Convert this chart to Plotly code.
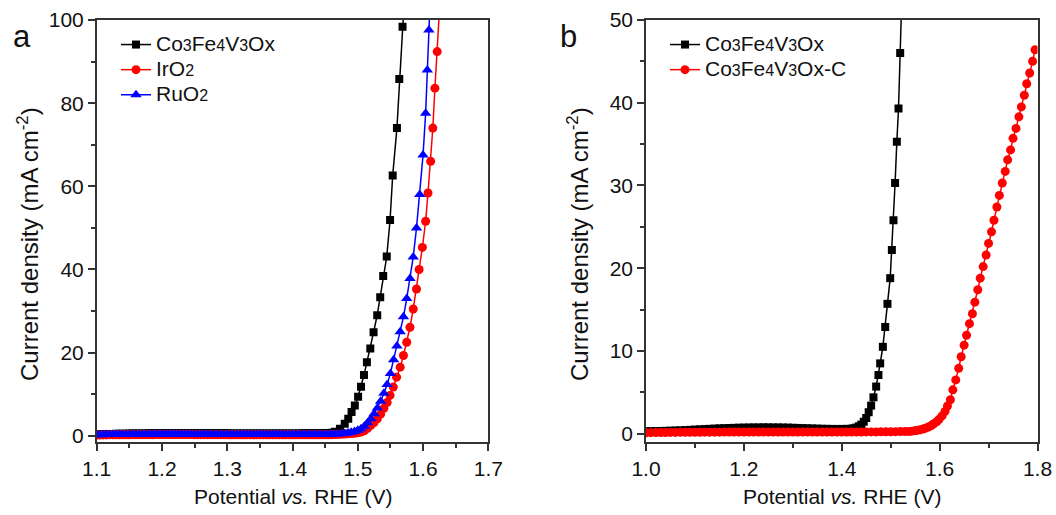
import plotly.graph_objects as go

# ---------------- Panel a data ----------------
POT_A_BASE = [1.100, 1.105, 1.110, 1.115, 1.120, 1.125, 1.130, 1.135, 1.140, 1.145,
              1.150, 1.155, 1.160, 1.165, 1.170, 1.175, 1.180, 1.185, 1.190, 1.195,
              1.200, 1.205, 1.210, 1.215, 1.220, 1.225, 1.230, 1.235, 1.240, 1.245,
              1.250, 1.255, 1.260, 1.265, 1.270, 1.275, 1.280, 1.285, 1.290, 1.295,
              1.300, 1.305, 1.310, 1.315, 1.320, 1.325, 1.330, 1.335, 1.340, 1.345,
              1.350, 1.355, 1.360, 1.365, 1.370, 1.375, 1.380, 1.385, 1.390, 1.395,
              1.400, 1.405, 1.410, 1.415, 1.420, 1.425, 1.430, 1.435, 1.440, 1.445,
              1.450]

A_CFVO_BASE = [0.35, 0.37, 0.39, 0.41, 0.43, 0.45, 0.47, 0.48, 0.50, 0.51,
               0.52, 0.53, 0.54, 0.55, 0.56, 0.57, 0.58, 0.58, 0.59, 0.59,
               0.60, 0.60, 0.61, 0.61, 0.61, 0.62, 0.62, 0.62, 0.62, 0.62,
               0.62, 0.62, 0.61, 0.61, 0.61, 0.60, 0.60, 0.59, 0.59, 0.58,
               0.58, 0.57, 0.57, 0.56, 0.56, 0.55, 0.55, 0.55, 0.54, 0.54,
               0.54, 0.54, 0.54, 0.54, 0.54, 0.54, 0.55, 0.55, 0.55, 0.56,
               0.56, 0.57, 0.57, 0.58, 0.58, 0.59, 0.60, 0.61, 0.62, 0.63,
               0.64]
A_IRO2_BASE = [0.18, 0.19, 0.20, 0.21, 0.22, 0.23, 0.23, 0.24, 0.24, 0.25,
               0.25, 0.26, 0.26, 0.26, 0.27, 0.27, 0.27, 0.27, 0.28, 0.28,
               0.28, 0.28, 0.28, 0.28, 0.28, 0.28, 0.28, 0.28, 0.28, 0.28,
               0.27, 0.27, 0.27, 0.27, 0.27, 0.26, 0.26, 0.26, 0.26, 0.26,
               0.25, 0.25, 0.25, 0.25, 0.25, 0.25, 0.25, 0.24, 0.24, 0.24,
               0.24, 0.24, 0.24, 0.24, 0.24, 0.24, 0.24, 0.24, 0.24, 0.24,
               0.24, 0.24, 0.24, 0.24, 0.24, 0.24, 0.24, 0.24, 0.24, 0.25,
               0.25]
A_RUO2_BASE = [0.25, 0.26, 0.27, 0.28, 0.29, 0.30, 0.30, 0.31, 0.31, 0.32,
               0.32, 0.32, 0.33, 0.33, 0.33, 0.33, 0.34, 0.34, 0.34, 0.34,
               0.34, 0.34, 0.34, 0.34, 0.34, 0.34, 0.34, 0.34, 0.33, 0.33,
               0.33, 0.33, 0.33, 0.32, 0.32, 0.32, 0.32, 0.32, 0.31, 0.31,
               0.31, 0.31, 0.31, 0.30, 0.30, 0.30, 0.30, 0.30, 0.30, 0.30,
               0.30, 0.30, 0.30, 0.30, 0.30, 0.30, 0.30, 0.30, 0.30, 0.30,
               0.30, 0.30, 0.30, 0.30, 0.30, 0.30, 0.30, 0.30, 0.30, 0.31,
               0.31]

A_CFVO_POT_RISE = [1.455, 1.460, 1.465, 1.4727, 1.480, 1.4854, 1.4905, 1.4955, 1.5005, 1.505,
                   1.5095, 1.514, 1.5192, 1.5242, 1.5298, 1.5344, 1.539, 1.5444, 1.5495, 1.5535,
                   1.560, 1.5636, 1.5686, 1.5736]
A_CFVO_J_RISE = [0.65, 0.75, 0.95, 1.7, 2.9, 4.1, 5.7, 7.3, 9.4, 11.8,
                 14.6, 17.7, 21.0, 24.9, 29.0, 33.3, 38.4, 43.1, 51.9, 62.6,
                 74.0, 85.8, 98.4, 111.0]

A_IRO2_POT_RISE = [1.455, 1.460, 1.465, 1.470, 1.475, 1.480, 1.485, 1.490, 1.495, 1.500,
                   1.505, 1.510, 1.515, 1.520, 1.525, 1.530, 1.535, 1.540, 1.545, 1.5495,
                   1.5545, 1.5595, 1.565, 1.570, 1.575, 1.580, 1.585, 1.590, 1.594, 1.599,
                   1.604, 1.6076, 1.6117, 1.615, 1.6182, 1.6217, 1.625]
A_IRO2_J_RISE = [0.25, 0.27, 0.30, 0.33, 0.37, 0.42, 0.47, 0.53, 0.60, 0.70,
                 0.88, 1.2, 1.8, 2.5, 3.2, 4.1, 5.2, 6.6, 8.0, 9.7,
                 11.7, 14.1, 16.5, 19.3, 22.5, 26.1, 30.5, 35.3, 40.0, 45.3,
                 51.6, 58.4, 66.0, 74.0, 83.6, 92.4, 102.0]

A_RUO2_POT_RISE = [1.455, 1.460, 1.465, 1.470, 1.475, 1.480, 1.485, 1.490, 1.495, 1.500,
                   1.505, 1.510, 1.515, 1.520, 1.525, 1.530, 1.535, 1.540, 1.545, 1.550,
                   1.555, 1.560, 1.565, 1.570, 1.575, 1.580, 1.585, 1.590, 1.595, 1.600,
                   1.604, 1.6065, 1.609, 1.6115]
A_RUO2_J_RISE = [0.32, 0.35, 0.38, 0.42, 0.48, 0.56, 0.68, 0.85, 1.05, 1.35,
                 1.7, 2.3, 3.1, 4.1, 5.3, 6.7, 8.3, 10.2, 12.3, 15.0,
                 18.3, 21.6, 25.0, 28.6, 33.0, 37.8, 43.0, 50.0, 58.0, 67.5,
                 77.6, 88.0, 97.6, 107.0]

# ---------------- Panel b data ----------------
POT_B_BASE = [1.00, 1.01, 1.02, 1.03, 1.04, 1.05, 1.06, 1.07, 1.08, 1.09,
              1.10, 1.11, 1.12, 1.13, 1.14, 1.15, 1.16, 1.17, 1.18, 1.19,
              1.20, 1.21, 1.22, 1.23, 1.24, 1.25, 1.26, 1.27, 1.28, 1.29,
              1.30, 1.31, 1.32, 1.33, 1.34, 1.35, 1.36, 1.37, 1.38, 1.39,
              1.40, 1.41, 1.42, 1.43, 1.44, 1.45, 1.46, 1.47, 1.48, 1.49,
              1.50, 1.51, 1.52, 1.53]

B_CFVO_BASE = [0.30, 0.31, 0.32, 0.33, 0.35, 0.37, 0.39, 0.41, 0.44, 0.47,
               0.50, 0.53, 0.56, 0.59, 0.62, 0.65, 0.67, 0.69, 0.71, 0.73,
               0.74, 0.75, 0.76, 0.76, 0.77, 0.77, 0.76, 0.76, 0.75, 0.74,
               0.72, 0.70, 0.68, 0.66, 0.64, 0.62, 0.60, 0.59, 0.58, 0.58,
               0.58, 0.59, 0.61]
B_CFVOC_BASE = [0.12, 0.13, 0.14, 0.15, 0.15, 0.16, 0.16, 0.17, 0.17, 0.18,
                0.18, 0.18, 0.19, 0.19, 0.19, 0.19, 0.20, 0.20, 0.20, 0.20,
                0.20, 0.20, 0.20, 0.20, 0.20, 0.20, 0.20, 0.20, 0.20, 0.20,
                0.20, 0.20, 0.20, 0.20, 0.20, 0.20, 0.20, 0.20, 0.20, 0.20,
                0.21, 0.21, 0.21, 0.21, 0.21, 0.22, 0.22, 0.22, 0.23, 0.23,
                0.24, 0.25, 0.26, 0.27]

B_CFVO_POT_RISE = [1.425, 1.430, 1.435, 1.440, 1.445, 1.450, 1.455, 1.460, 1.4648, 1.4703,
                   1.475, 1.4785, 1.484, 1.4888, 1.4934, 1.499, 1.5024, 1.5057, 1.509, 1.5126,
                   1.516, 1.5194, 1.5228]
B_CFVO_J_RISE = [0.66, 0.75, 0.90, 1.1, 1.45, 1.9, 2.6, 3.4, 4.4, 5.7,
                 7.1, 8.5, 10.5, 12.9, 15.7, 18.8, 22.2, 25.8, 30.3, 35.3,
                 39.3, 46.0, 53.0]

B_CFVOC_POT_RISE = [1.538, 1.543, 1.549, 1.554, 1.560, 1.566, 1.571, 1.577, 1.583, 1.588,
                    1.594, 1.599, 1.605, 1.611, 1.616, 1.622, 1.627, 1.633, 1.639, 1.644,
                    1.650, 1.655, 1.661, 1.667, 1.672, 1.678, 1.683, 1.689, 1.695, 1.700,
                    1.706, 1.711, 1.717, 1.722, 1.728, 1.734, 1.739, 1.745, 1.750, 1.756,
                    1.762, 1.767, 1.773, 1.778, 1.784, 1.790, 1.795]
B_CFVOC_J_RISE = [0.28, 0.31, 0.35, 0.40, 0.47, 0.56, 0.67, 0.81, 0.98, 1.2,
                  1.45, 1.75, 2.15, 2.7, 3.35, 4.1, 5.3, 6.5, 7.9, 9.3,
                  10.7, 11.9, 13.3, 14.5, 15.9, 17.4, 18.8, 20.2, 21.6, 23.0,
                  24.4, 25.8, 27.4, 28.8, 30.3, 31.7, 33.1, 34.3, 35.7, 36.9,
                  38.3, 39.5, 40.9, 42.3, 43.6, 45.0, 46.4]

X_TITLE = "Potential <i>vs.</i> RHE (V)"
Y_TITLE = "Current density (mA cm<sup>-2</sup>)"

FONT = "Liberation Sans, Arial, sans-serif"
TXT = "#111111"


def big(t):
    return '<span style="font-size:21px">' + t + '</span>'


def small(t):
    return '<span style="font-size:16px">' + t + '</span>'


NAME_CFVO = big("Co") + small("3") + big("Fe") + small("4") + big("V") + small("3") + big("Ox")
NAME_IRO2 = big("IrO") + small("2")
NAME_RUO2 = big("RuO") + small("2")
NAME_CFVOC = NAME_CFVO + big("-C")

fig = go.Figure()


def add(x, y, name, color, symbol, size, xa, ya, legend):
    fig.add_trace(go.Scatter(
        x=x, y=y, mode="lines+markers", name=name,
        line=dict(color=color, width=1.5),
        marker=dict(symbol=symbol, size=size, color=color, line=dict(width=0)),
        xaxis=xa, yaxis=ya, legend=legend))


# panel a
add(POT_A_BASE + A_CFVO_POT_RISE, A_CFVO_BASE + A_CFVO_J_RISE, NAME_CFVO, "#000000", "square", 8, "x", "y", "legend")
add(POT_A_BASE + A_IRO2_POT_RISE, A_IRO2_BASE + A_IRO2_J_RISE, NAME_IRO2, "#FF0000", "circle", 9, "x", "y", "legend")
add(POT_A_BASE + A_RUO2_POT_RISE, A_RUO2_BASE + A_RUO2_J_RISE, NAME_RUO2, "#0000FF", "triangle-up", 10, "x", "y", "legend")
# panel b
add(POT_B_BASE[:len(B_CFVO_BASE)] + B_CFVO_POT_RISE, B_CFVO_BASE + B_CFVO_J_RISE, NAME_CFVO, "#000000", "square", 8, "x2", "y2", "legend2")
add(POT_B_BASE + B_CFVOC_POT_RISE, B_CFVOC_BASE + B_CFVOC_J_RISE, NAME_CFVOC, "#FF0000", "circle", 9, "x2", "y2", "legend2")

W, H = 1056, 515
AX_COL = "#333333"
common = dict(showline=True, linecolor=AX_COL, linewidth=1.5, mirror=True,
              ticks="outside", ticklen=7, tickwidth=1.5, tickcolor=AX_COL,
              showgrid=False, zeroline=False, automargin=False,
              tickfont=dict(size=21, color=TXT, family=FONT))


def minor(dt, t0):
    return dict(ticks="outside", ticklen=4, tickwidth=1.5, tickcolor=AX_COL, dtick=dt, tick0=t0)


XA = [96.7, 488.3]
XB = [646.0, 1037.5]
ydom = [1 - 442 / H, 1 - 20 / H]


def ann(text, xpx, ypx, size, angle=0):
    return dict(text=text, x=xpx / W, y=1 - ypx / H, xref="paper", yref="paper", showarrow=False,
                textangle=angle, font=dict(size=size, family=FONT, color=TXT),
                xanchor="center", yanchor="middle")


fig.update_layout(
    width=W, height=H,
    margin=dict(l=0, r=0, t=0, b=0),
    paper_bgcolor="white", plot_bgcolor="white",
    font=dict(family=FONT, color=TXT),
    xaxis=dict(domain=[XA[0] / W, XA[1] / W], range=[1.1, 1.7], tick0=1.1, dtick=0.1, tickformat=".1f",
               minor=minor(0.05, 1.1), anchor="y", **common),
    yaxis=dict(domain=ydom, range=[-1.5, 100], tick0=0, dtick=20,
               minor=minor(10, 0), anchor="x", **common),
    xaxis2=dict(domain=[XB[0] / W, XB[1] / W], range=[1.0, 1.8], tick0=1.0, dtick=0.2, tickformat=".1f",
                minor=minor(0.1, 1.0), anchor="y2", **common),
    yaxis2=dict(domain=ydom, range=[-1, 50], tick0=0, dtick=10,
                minor=minor(5, 0), anchor="x2", **common),
    legend=dict(x=116 / W, y=1 - 27 / H, xanchor="left", yanchor="top", bgcolor="rgba(0,0,0,0)",
                font=dict(size=17, family=FONT, color=TXT), tracegroupgap=0),
    legend2=dict(x=665 / W, y=1 - 27 / H, xanchor="left", yanchor="top", bgcolor="rgba(0,0,0,0)",
                 font=dict(size=17, family=FONT, color=TXT), tracegroupgap=0),
    annotations=[
        ann("a", 22, 36, 31),
        ann("b", 568, 36, 31),
        ann(X_TITLE, (XA[0] + XA[1]) / 2, 496, 21),
        ann(X_TITLE, (XB[0] + XB[1]) / 2, 496, 21),
        ann(Y_TITLE, 28, 244, 24, -90),
        ann(Y_TITLE, 578, 244, 24, -90),
    ],
)

fig.write_html("out.html")
